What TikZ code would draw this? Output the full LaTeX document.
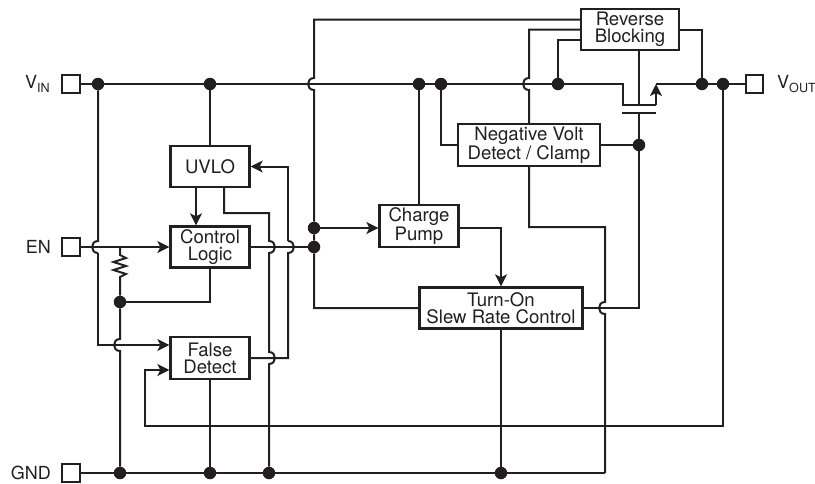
\documentclass[tikz,border=0pt]{standalone}
\usepackage{fontspec}
\setmainfont{TeX Gyre Heros}
\usetikzlibrary{arrows.meta}
\definecolor{inkdark}{HTML}{231F20}
\tikzset{
    wire/.style={line width=2pt,color=inkdark,line join=miter},
    feed/.style={wire,-{Stealth[length=12pt,width=12pt,inset=3pt]}},
    blockbox/.style={draw=inkdark,line width=2.3pt,fill=white,inner sep=0pt,align=center,text=inkdark,font=\fontsize{18.6}{17}\selectfont},
    pinbox/.style={draw=inkdark,line width=2.2pt,fill=white,minimum size=17.5pt,inner sep=0pt},
    pinlabel/.style={text=inkdark,inner sep=0pt,font=\fontsize{18}{17}\selectfont},
    junction/.style={circle,fill=inkdark,minimum size=12.5pt,inner sep=0pt},
    hopleft/.style={out=180,in=180,looseness=1.7},
    hopright/.style={out=0,in=0,looseness=1.7}
}
\begin{document}
\begin{tikzpicture}[x=1pt,y=-1pt]
        \useasboundingbox (0,0) rectangle (815,483);
        \node [pinbox] (pinvin) at (71,84) {};
        \node [pinbox] (pinen) at (71,247) {};
        \node [pinbox] (pingnd) at (71,473) {};
        \node [pinbox] (pinvout) at (754.5,84) {};
        \node [pinlabel,anchor=west] (lblvin) at (25,84) {V\textsubscript{IN}};
        \node [pinlabel,anchor=east] (lblen) at (51,247) {EN};
        \node [pinlabel,anchor=east] (lblgnd) at (51,473) {GND};
        \node [pinlabel,anchor=west] (lblvout) at (777,84) {V\textsubscript{OUT}};
        \node [blockbox,minimum width=79pt,minimum height=41pt] (uvlo) at (210,166.5) {UVLO};
        \node [blockbox,minimum width=79pt,minimum height=41pt] (ctrl) at (210,247) {Control\\Logic};
        \node [blockbox,minimum width=79pt,minimum height=42pt] (falsedet) at (210,358) {False\\Detect};
        \node [blockbox,minimum width=79pt,minimum height=42pt] (pump) at (419,226) {Charge\\Pump};
        \node [blockbox,minimum width=163pt,minimum height=41pt] (turnon) at (501,308) {Turn-On\\Slew Rate Control};
        \node [blockbox,minimum width=142pt,minimum height=42pt] (negvolt) at (529,145) {Negative Volt\\Detect / Clamp};
        \node [blockbox,minimum width=98pt,minimum height=41pt] (revblock) at (630,29.5) {Reverse\\Blocking};
        \node [junction] (jleft) at (98,84) {};
        \node [junction] (juvlo) at (210,84) {};
        \node [junction] (jpump) at (419,84) {};
        \node [junction] (jneg) at (441,84) {};
        \node [junction] (jrev) at (558,84) {};
        \node [junction] (jdrain) at (702,84) {};
        \node [junction] (jfb) at (723,84) {};
        \node [junction] (jgate) at (639,145) {};
        \node [junction] (jsense) at (314,228) {};
        \node [junction] (jctrl) at (314,247) {};
        \node [junction] (jres) at (120,302) {};
        \node [junction] (gres) at (120,473) {};
        \node [junction] (gfalse) at (210,473) {};
        \node [junction] (guvlo) at (269,473) {};
        \node [junction] (gturn) at (501,473) {};
        \coordinate (gend) at (605,473);
        \coordinate (entap) at (120,247);
        \coordinate (fetin) at (623,84);
        \coordinate (fetout) at (656,84);
        \coordinate (chanl) at (623,105);
        \coordinate (chanr) at (656,105);
        \coordinate (chang) at (639,105);
        \coordinate (platel) at (622,113);
        \coordinate (plater) at (656,113);
        \coordinate (plateg) at (639,113);
        \coordinate (fbturn) at (145,426);
        \coordinate (uvlobend) at (269,213);
        \coordinate (falsebend) at (288,358);
        \coordinate (negbend) at (605,227);
        \foreach \n/\x/\y in {a/98/247,b/314/84,c/529/84,d/269/247,e/288/247,f/269/358,g/120/345,h/605/308} {
            \coordinate (hop\n up) at (\x,\y-6);
            \coordinate (hop\n dn) at (\x,\y+6);
        }
        \draw [wire] (pinvin) -- (jleft) -- (juvlo) -- (jpump) -- (jneg) -- (jrev) -- (fetin) -- (chanl) -- (chanr);
        \draw [feed] (chanr) -- (fetout);
        \draw [wire] (fetout) -- (jdrain) -- (jfb) -- (pinvout);
        \draw [wire] (platel) -- (plater);
        \draw [wire] ([xshift=9pt]revblock.south) -- (chang);
        \draw [wire] (plateg) -- (jgate) |- (turnon.east);
        \draw [wire] (negvolt.east) -- (jgate);
        \draw [wire] (jneg) |- (negvolt.west);
        \draw [wire] (jpump) -- (pump.north);
        \draw [wire] (juvlo) -- (uvlo.north);
        \draw [wire] (jleft) -- (hopaup) to[hopleft] (hopadn);
        \draw [feed] (hopadn) |- ([yshift=13pt]falsedet.west);
        \draw [feed] (pinen) -- (ctrl.west);
        \draw [wire] (entap) -- ++(0,8) -- ++(6,3) -- ++(-12.5,4) -- ++(12.5,4) -- ++(-12.5,4) -- ++(12.5,4) -- ++(-6,3) -- (jres);
        \draw [wire] (jres) -| (ctrl.south);
        \draw [wire] (jres) -- (hopgup) to[hopleft] (hopgdn) -- (gres);
        \draw [feed] ([xshift=-14pt]uvlo.south) -- ([xshift=-14pt]ctrl.north);
        \draw [wire] ([xshift=14pt]uvlo.south) |- (uvlobend) -- (hopdup) to[hopright] (hopddn) -- (hopfup) to[hopright] (hopfdn) -- (guvlo);
        \draw [wire] (ctrl.east) -- (jctrl);
        \draw [wire] (falsedet.east) -- (falsebend) -- (hopedn) to[hopright] (hopeup);
        \draw [feed] (hopeup) |- (uvlo.east);
        \draw [wire] (falsedet.south) -- (gfalse);
        \draw [wire] (pingnd) -- (gres) -- (gfalse) -- (guvlo) -- (gturn) -- (gend);
        \draw [feed] (jfb) |- (fbturn) |- ([yshift=-12pt]falsedet.west);
        \draw [wire] ([yshift=10pt]revblock.west) -| (hopbup) to[hopleft] (hopbdn) -- (jsense) -- (jctrl) |- (turnon.west);
        \draw [feed] (jsense) -- (pump.west |- jsense);
        \draw [feed] (pump.east |- jsense) -| (turnon.north);
        \draw [wire] (revblock.west) -| (hopcup) to[hopleft] (hopcdn) -- (negvolt.north);
        \draw [wire] ([yshift=-10pt]revblock.west) -| (jrev);
        \draw [wire] (revblock.east) -| (jdrain);
        \draw [wire] (negvolt.south) |- (negbend) -- (hophup) to[hopleft] (hophdn) -- (gend);
        \draw [wire] (turnon.south) -- (gturn);
\end{tikzpicture}
\end{document}
